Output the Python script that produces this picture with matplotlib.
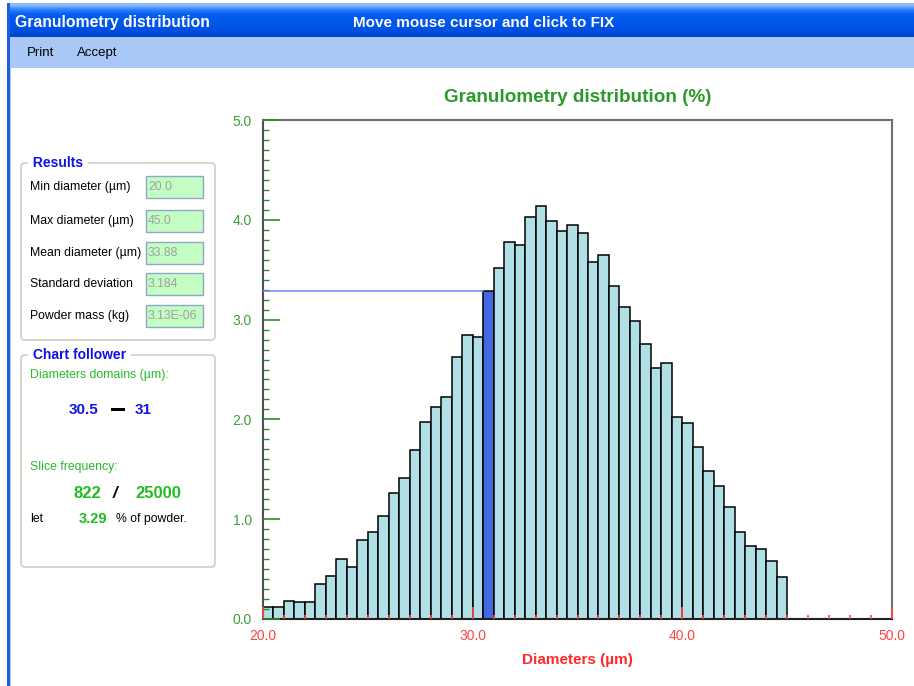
import numpy as np
import matplotlib
matplotlib.use("Agg")
import matplotlib.pyplot as plt
from matplotlib.patches import Rectangle, FancyBboxPatch
from matplotlib.ticker import MultipleLocator, FormatStrFormatter

plt.rcParams['font.family'] = ['Liberation Sans', 'DejaVu Sans']

W, H = 914, 686

# ---------------- data ----------------
bin_width = 0.5
bin_starts = np.arange(20.0, 45.0, bin_width)
percent = [0.12, 0.12, 0.18, 0.17, 0.17, 0.35, 0.43, 0.60, 0.52, 0.79,
           0.87, 1.03, 1.26, 1.41, 1.69, 1.97, 2.12, 2.22, 2.63, 2.85,
           2.83, 3.29, 3.52, 3.78, 3.75, 4.03, 4.14, 3.99, 3.89, 3.95,
           3.87, 3.58, 3.65, 3.34, 3.13, 2.99, 2.76, 2.52, 2.57, 2.02,
           1.96, 1.72, 1.48, 1.33, 1.12, 0.87, 0.73, 0.70, 0.58, 0.42]
selected_bin = 30.5
x_range = (20.0, 50.0)
y_range = (0.0, 5.0)

results_labels = ["Min diameter (µm)", "Max diameter (µm)", "Mean diameter (µm)",
                  "Standard deviation", "Powder mass (kg)"]
results_values = ["20.0", "45.0", "33.88", "3.184", "3.13E-06"]
domain_lo, domain_hi = "30.5", "31"
slice_count, total_count = "822", "25000"
slice_pct = "3.29"

# ---------------- figure / window chrome ----------------
fig = plt.figure(figsize=(W / 100, H / 100), dpi=100)
fig.patch.set_facecolor('white')
bg = fig.add_axes([0, 0, 1, 1])
bg.set_xlim(0, W)
bg.set_ylim(H, 0)
bg.axis('off')

# title bar gradient
grad = np.array([[0.55, 0.74, 0.99], [0.20, 0.52, 0.98], [0.04, 0.38, 0.95],
                 [0.00, 0.35, 0.93], [0.00, 0.34, 0.92], [0.00, 0.33, 0.91],
                 [0.00, 0.31, 0.88], [0.00, 0.27, 0.82]])
bg.imshow(grad[:, None, :], extent=[8, W, 37, 3], aspect='auto',
          interpolation='bilinear', zorder=1)
bg.add_patch(Rectangle((8, 37), W - 8, 31, facecolor='#A9C8F5', edgecolor='none', zorder=1))
bg.add_patch(Rectangle((7, 3), 3, H, facecolor='#1D5FE0', edgecolor='none', zorder=2))
bg.add_patch(Rectangle((10, 37), 1, H, facecolor='#A9C8F5', edgecolor='none', zorder=2))

bg.text(15, 23, "Granulometry distribution", color='white', fontsize=11.3,
        fontweight='bold', va='center', ha='left', zorder=3)
bg.text(353, 23, "Move mouse cursor and click to FIX", color='white', fontsize=11,
        fontweight='bold', va='center', ha='left', zorder=3)
bg.text(27, 53, "Print", color='black', fontsize=9.5, va='center', ha='left', zorder=3)
bg.text(77, 53, "Accept", color='black', fontsize=9.5, va='center', ha='left', zorder=3)

# group boxes
for (top, bottom, title) in [(163, 340, "Results"), (355, 567, "Chart follower")]:
    bg.add_patch(FancyBboxPatch((21, top), 194, bottom - top,
                                boxstyle="round,pad=0,rounding_size=4",
                                facecolor='none', edgecolor='#D0D0C0', lw=1.2, zorder=2))
    bg.text(29, top, " " + title + " ", color='#1010E8', fontsize=10, fontweight='bold',
            va='center', ha='left', zorder=3,
            bbox=dict(facecolor='white', edgecolor='none', pad=0.5))

row_y = [187, 221, 253, 284, 316]
for yy, lab, val in zip(row_y, results_labels, results_values):
    bg.text(30, yy, lab, color='black', fontsize=8.8, va='center', ha='left', zorder=3)
    bg.add_patch(Rectangle((146, yy - 11), 57, 22, facecolor='#C4FDC4',
                           edgecolor='#8FA8C8', lw=1, zorder=2))
    bg.text(148, yy, val, color='#A0A0A0', fontsize=8.8, va='center', ha='left', zorder=3)

green = '#22BB22'
blue_txt = '#1515E6'
bg.text(30, 375, "Diameters domains (µm):", color=green, fontsize=8.8, va='center', ha='left')
bg.text(69, 410, domain_lo, color=blue_txt, fontsize=11, fontweight='bold', va='center', ha='left')
bg.add_patch(Rectangle((111, 408), 14, 2.5, facecolor='black', edgecolor='none', zorder=3))
bg.text(135, 410, domain_hi, color=blue_txt, fontsize=11, fontweight='bold', va='center', ha='left')
bg.text(30, 467, "Slice frequency:", color=green, fontsize=8.8, va='center', ha='left')
bg.text(74, 493, slice_count, color=green, fontsize=12, fontweight='bold', va='center', ha='left')
bg.text(113, 493, "/", color='black', fontsize=12, fontweight='bold', style='italic', va='center', ha='left')
bg.text(135, 493, total_count, color=green, fontsize=12, fontweight='bold', va='center', ha='left')
bg.text(30, 519, "let", color='black', fontsize=8.8, va='center', ha='left')
bg.text(79, 519, slice_pct, color=green, fontsize=10.5, fontweight='bold', va='center', ha='left')
bg.text(116, 519, "% of powder.", color='black', fontsize=8.8, va='center', ha='left')

# ---------------- chart ----------------
ax = fig.add_axes([263 / W, 1 - 619 / H, (892 - 263) / W, (619 - 120) / H])
ax.set_facecolor('white')
ax.set_axisbelow(False)
colors = ['#4169E1' if abs(b - selected_bin) < 1e-9 else '#B0E0E6' for b in bin_starts]
ax.bar(bin_starts, percent, width=bin_width, align='edge', color=colors,
       edgecolor='black', linewidth=1.1, zorder=2)
sel_idx = int(np.argmin(np.abs(bin_starts - selected_bin)))
ax.plot([x_range[0], selected_bin], [percent[sel_idx], percent[sel_idx]],
        color='#6A8CE6', lw=1.1, zorder=3)

ax.set_xlim(*x_range)
ax.set_ylim(*y_range)
ax.xaxis.set_major_locator(MultipleLocator(10))
ax.xaxis.set_minor_locator(MultipleLocator(1))
ax.yaxis.set_major_locator(MultipleLocator(1))
ax.yaxis.set_minor_locator(MultipleLocator(0.1))
ax.xaxis.set_major_formatter(FormatStrFormatter('%.1f'))
ax.yaxis.set_major_formatter(FormatStrFormatter('%.1f'))

red = '#FF4444'
ygreen = '#3A9E3A'
ax.tick_params(axis='x', which='both', direction='in', color=red, labelcolor=red,
               labelsize=10, pad=7)
ax.tick_params(axis='x', which='major', length=9, width=1.3)
ax.tick_params(axis='x', which='minor', length=3, width=1.2)
ax.tick_params(axis='y', which='both', direction='in', color='#2E8B2E', labelcolor=ygreen,
               labelsize=10, pad=8)
ax.tick_params(axis='y', which='major', length=12, width=1.2)
ax.tick_params(axis='y', which='minor', length=4, width=1.0)

for side, col in [('left', '#505050'), ('bottom', '#202020'), ('top', '#707070'), ('right', '#707070')]:
    ax.spines[side].set_color(col)
    ax.spines[side].set_linewidth(1.5)

ax.set_title("Granulometry distribution (%)", color='#2A9A2A', fontsize=13.6,
             fontweight='bold', pad=13)
ax.set_xlabel("Diameters (µm)", color='#FF2A2A', fontsize=11, fontweight='bold', labelpad=7.5)

fig.savefig("out.png", dpi=100, facecolor='white')
